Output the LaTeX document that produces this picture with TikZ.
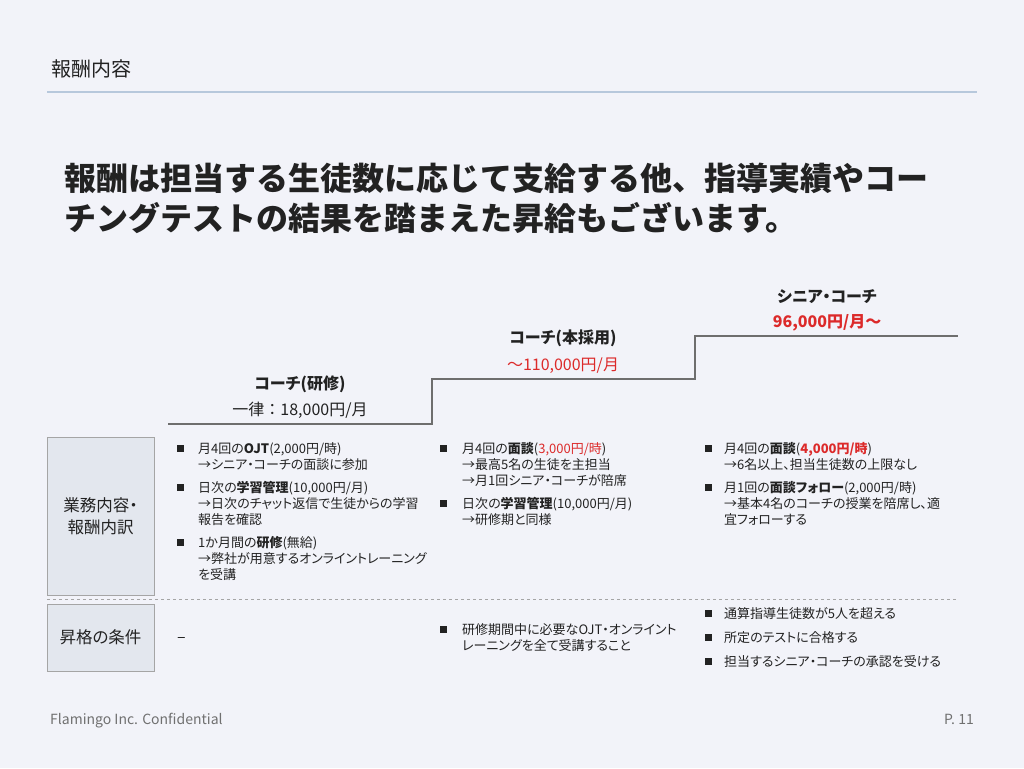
\documentclass[tikz,border=0pt]{standalone}
\usepackage{fontspec}
\setmainfont{Noto Sans CJK JP}
\newfontfamily\propfont{Noto Sans CJK JP}[RawFeature=+palt]
\usetikzlibrary{positioning}
\definecolor{paper}{HTML}{F2F3F9}
\definecolor{ink}{HTML}{222222}
\definecolor{rule}{HTML}{B7C8DC}
\definecolor{stair}{HTML}{6E6E6E}
\definecolor{cell}{HTML}{E3E7EE}
\definecolor{frame}{HTML}{A5A5A5}
\definecolor{raise}{HTML}{DC2A2A}
\definecolor{muted}{HTML}{707070}

\begin{document}
\begin{tikzpicture}[x=1pt, y=-1pt,
  hd/.style={font=\fontsize{20}{24}\selectfont, text=ink, anchor=west, inner sep=0},
  lead/.style={font=\fontsize{32}{40}\selectfont\bfseries, text=ink, anchor=west, inner sep=0},
  rank/.style={font=\propfont\fontsize{16}{20}\selectfont\bfseries, text=ink, inner sep=0},
  pay/.style={font=\fontsize{16}{20}\selectfont, text=ink, inner sep=0},
  lbl/.style={draw=frame, fill=cell, line width=1pt, font=\propfont\fontsize{16.5}{22}\selectfont, text=ink, align=center, minimum width=107pt, inner sep=0},
  txt/.style={font=\propfont\fontsize{13}{16}\selectfont, text=ink, text width=255pt, align=left, anchor=base west, inner sep=0},
  sq/.style={fill=ink, minimum size=7pt, inner sep=0},
  foot/.style={font=\fontsize{14}{16}\selectfont, text=muted, anchor=base west, inner sep=0}]
  \fill[paper] (0,0) rectangle (1024,768);
  \useasboundingbox (0,0) rectangle (1024,768);
  % title and rule
  \node[hd] (title) at (51,69) {報酬内容};
  \coordinate (r0) at (47,91.5);
  \coordinate (r1) at (977,91.5);
  \draw[rule, line width=2pt] (r0) -- (r1);
  \node[lead] (lead1) at (64,178) {報酬は担当する生徒数に応じて支給する他、指導実績やコー};
  \node[lead] (lead2) at (64,218) {チングテストの結果を踏まえた昇給もございます。};
  % steps
  \coordinate (s0) at (168,424);
  \coordinate (s1) at (432,424);
  \coordinate (s2) at (432,379);
  \coordinate (s3) at (695,379);
  \coordinate (s4) at (695,336);
  \coordinate (s5) at (958,336);
  \draw[stair, line width=2.5pt] (s0) -- (s1) -- (s2) -- (s3) -- (s4) -- (s5);
  \node[rank] (rank1) at (300,384) {コーチ(研修)};
  \node[pay] (pay1) at (300,410) {一律：18,000円/月};
  \node[rank] (rank2) at (563,338) {コーチ(本採用)};
  \node[pay, text=raise] (pay2) at (563,366) {～110,000円/月};
  \node[rank] (rank3) at (827,297) {シニア・コーチ};
  \node[pay, text=raise] (pay3) at (827,323) {\propfont\bfseries 96,000円/月～};
  % row heads
  \node[lbl, minimum height=158pt] (duty) at (100.5,516) {業務内容・\\報酬内訳};
  \node[lbl, minimum height=67pt] (promo) at (100.5,637.5) {昇格の条件};
  \coordinate (d0) at (47,599.5);
  \coordinate (d1) at (958,599.5);
  \draw[frame, dashed, line width=1pt] (d0) -- (d1);
  % duties
  \node[txt] (c1a) at (198,453) {月4回の\textbf{OJT}(2,000円/時)\\→シニア・コーチの面談に参加};
  \node[txt] (c1b) at (198,492) {日次の\textbf{学習管理}(10,000円/月)\\→日次のチャット返信で生徒からの学習\\報告を確認};
  \node[txt] (c1c) at (198,547) {1か月間の\textbf{研修}(無給)\\→弊社が用意するオンライントレーニング\\を受講};
  \node[txt] (c2a) at (462,453) {月4回の\textbf{面談}(\textcolor{raise}{3,000円/時})\\→最高5名の生徒を主担当\\→月1回シニア・コーチが陪席};
  \node[txt] (c2b) at (462,508) {日次の\textbf{学習管理}(10,000円/月)\\→研修期と同様};
  \node[txt] (c3a) at (724,453) {月4回の\textbf{面談}(\textcolor{raise}{\textbf{4,000円/時}})\\→6名以上、担当生徒数の上限なし};
  \node[txt] (c3b) at (724,492) {月1回の\textbf{面談フォロー}(2,000円/時)\\→基本4名のコーチの授業を陪席し、適\\宜フォローする};
  % promotion
  \node[txt] (c1d) at (177,642) {\fontsize{16}{16}\selectfont –};
  \node[txt] (c2d) at (462,634) {研修期間中に必要なOJT・オンライント\\レーニングを全て受講すること};
  \node[txt] (c3c) at (724,618) {通算指導生徒数が5人を超える};
  \node[txt] (c3d) at (724,642) {所定のテストに合格する};
  \node[txt] (c3e) at (724,666) {担当するシニア・コーチの承認を受ける};
  \foreach \bx/\by [count=\n] in {180/448, 180/487, 180/542, 443/448, 443/503,
      443/629, 708/448, 708/487, 708/613, 708/637, 708/661}
    \node[sq] (sq\n) at (\bx,\by) {};
  % footer
  \node[foot] (conf) at (50,724) {Flamingo Inc. Confidential};
  \node[foot, anchor=base east] (page) at (974,724) {P. 11};
\end{tikzpicture}
\end{document}
